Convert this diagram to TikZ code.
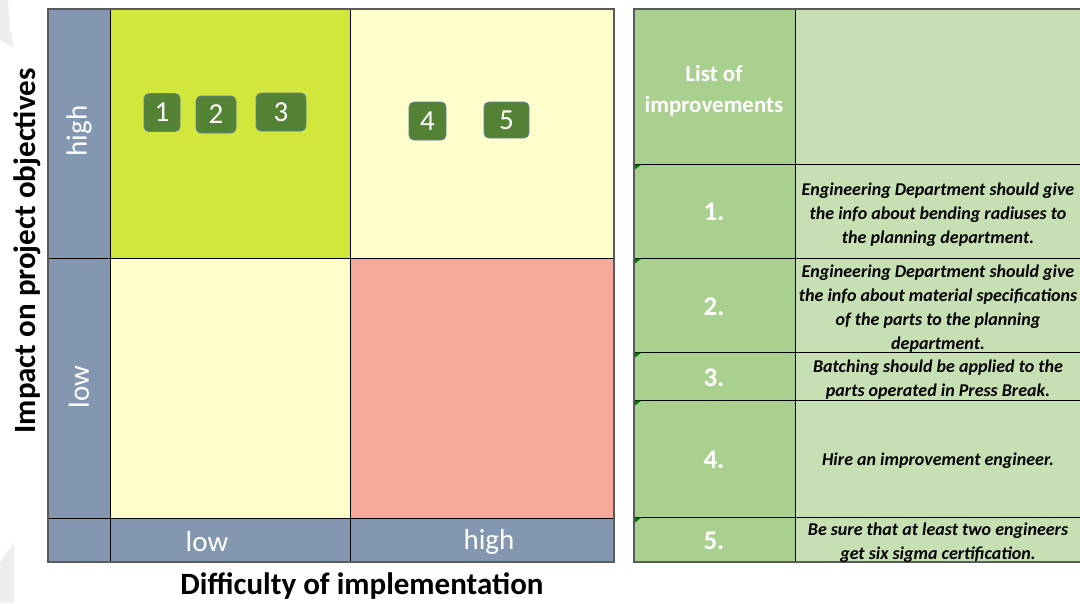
\documentclass[tikz,border=0pt]{standalone}
\usepackage{fontspec}
\setmainfont{Carlito}
\definecolor{axisblue}{HTML}{8497B0}
\definecolor{limecell}{HTML}{D1E73B}
\definecolor{paleyellow}{HTML}{FFFDCB}
\definecolor{salmoncell}{HTML}{F4A99B}
\definecolor{badgefill}{HTML}{548235}
\definecolor{badgeedge}{HTML}{5B7FA0}
\definecolor{numgreen}{HTML}{A9D08E}
\definecolor{txtgreen}{HTML}{C6E0B4}
\definecolor{trigreen}{HTML}{007A00}
\definecolor{frame}{HTML}{5A5A5A}
\definecolor{ghost}{HTML}{EEEEEE}
\begin{document}
\begin{tikzpicture}[x=1pt,y=-1pt,
  badge/.style={rounded corners=5pt, fill=badgefill, draw=badgeedge, line width=0.8pt,
    text=white, font=\fontsize{29}{30}\selectfont, inner sep=0pt},
  axislab/.style={text=white, font=\fontsize{29}{30}\selectfont},
  axistitle/.style={font=\fontsize{31}{33}\selectfont\bfseries},
  numlab/.style={text=white, font=\fontsize{27}{29}\selectfont\bfseries},
  itemtxt/.style={align=center, font=\fontsize{18}{24}\selectfont\bfseries\itshape, inner sep=0pt},
  gridline/.style={black, line width=0.8pt},
  marker/.style={fill=trigreen}
]
\useasboundingbox (0,0) rectangle (1080,603);
% faint background shapes
\fill[ghost] (0,0) -- (8,0) -- (10,28) -- (14,48) -- (0,40) -- cycle;
\fill[ghost] (0,562) -- (14,543) -- (14,603) -- (0,603) -- cycle;

% ---------- left matrix ----------
\fill[axisblue] (48,9) rectangle (110,562);
\fill[axisblue] (110,518) rectangle (614,562);
\fill[limecell] (110,9) rectangle (350,258);
\fill[paleyellow] (350,9) rectangle (614,258);
\fill[paleyellow] (110,258) rectangle (350,518);
\fill[salmoncell] (350,258) rectangle (614,518);
\draw[gridline] (110,9) -- (110,562);
\draw[gridline] (350,9) -- (350,562);
\draw[gridline] (48,258) -- (614,258);
\draw[gridline] (48,518) -- (614,518);
\draw[frame, line width=1.5pt] (48,9) rectangle (614,562);

\node[axislab, rotate=90] (yhigh) at (79,131) {high};
\node[axislab, rotate=90] (ylow) at (79,387) {low};
\node[axislab] (xlow) at (207,542) {low};
\node[axislab] (xhigh) at (489,542) {high};
\node[axistitle, rotate=90] (ytitle) at (27,251) {Impact on project objectives};
\node[axistitle] (xtitle) at (362,586) {Difficulty of implementation};

\node[badge, minimum width=36pt, minimum height=38pt] (b1) at (162,112.5) {1};
\node[badge, minimum width=40pt, minimum height=37pt] (b2) at (216,114.5) {2};
\node[badge, minimum width=50pt, minimum height=38pt] (b3) at (281,112) {3};
\node[badge, minimum width=37pt, minimum height=38pt] (b4) at (427.5,121) {4};
\node[badge, minimum width=45pt, minimum height=36pt] (b5) at (506.5,120) {5};

% ---------- right table ----------
\fill[numgreen] (634,9) rectangle (795,562);
\fill[txtgreen] (795,9) rectangle (1085,562);
\foreach \yy in {164,258,352,400,517}{
  \draw[gridline] (634,\yy) -- (1085,\yy);
  \fill[marker] (635,\yy+0.5) -- ++(6.5,0) -- ++(-6.5,5) -- cycle;
}
\draw[gridline] (795,9) -- (795,562);
\draw[frame, line width=1.5pt] (1085,9) -- (634,9) -- (634,562) -- (1085,562);

\node[text=white, align=center, font=\fontsize{23}{31}\selectfont\bfseries] (head) at (714,91) {List of\\improvements};

\node[numlab] (n1) at (714,212) {1.};
\node[numlab] (n2) at (714,307) {2.};
\node[numlab] (n3) at (714,378) {3.};
\node[numlab] (n4) at (714,460) {4.};
\node[numlab] (n5) at (714,541) {5.};

\node[itemtxt] (t1) at (938,215) {Engineering Department should give\\the info about bending radiuses to\\the planning department.};
\node[itemtxt] (t2) at (938,309) {Engineering Department should give\\the info about material specifications\\of the parts to the planning\\department.};
\node[itemtxt] (t3) at (938,380) {Batching should be applied to the\\parts operated in Press Break.};
\node[itemtxt] (t4) at (938,461) {Hire an improvement engineer.};
\node[itemtxt] (t5) at (938,543) {Be sure that at least two engineers\\get six sigma certification.};
\end{tikzpicture}
\end{document}
